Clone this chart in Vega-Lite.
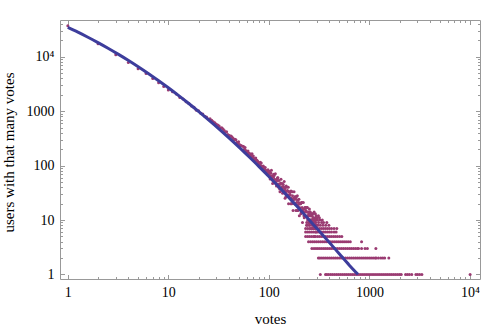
{
  "$schema": "https://vega.github.io/schema/vega-lite/v6.json",
  "width": 420,
  "height": 259,
  "autosize": {"type": "none"},
  "padding": {"left": 60, "top": 20, "right": 5, "bottom": 48},
  "background": "white",
  "config": {
    "view": {"stroke": "#999999", "strokeWidth": 1},
    "axis": {
      "labelFont": "Liberation Serif",
      "titleFont": "Liberation Serif",
      "labelColor": "black",
      "titleColor": "black",
      "labelFontSize": 14,
      "titleFontSize": 15,
      "titleFontWeight": "normal",
      "grid": false,
      "domain": false,
      "tickColor": "#999999",
      "tickWidth": 1,
      "labelFlush": false,
      "labelOverlap": false
    }
  },
  "datasets": {
    "pts": [
      {"v":1,"n":37300},{"v":2,"n":17400},{"v":3,"n":10900},{"v":4,"n":7900},{"v":5,"n":6050},{"v":6,"n":4950},{"v":7,"n":3980},{"v":8,"n":3330},{"v":9,"n":2850},{"v":10,"n":2460},
      {"v":11,"n":2290},{"v":12,"n":2068},{"v":13,"n":1790},{"v":14,"n":1676},{"v":15,"n":1486},{"v":16,"n":1393},{"v":17,"n":1248},{"v":18,"n":1180},{"v":19,"n":1045},{"v":20,"n":1016},
      {"v":21,"n":915},{"v":22,"n":886},{"v":23,"n":811},{"v":24,"n":781},{"v":25,"n":720},{"v":26,"n":730},{"v":27,"n":680},{"v":28,"n":640},{"v":29,"n":615},{"v":30,"n":575},
      {"v":31,"n":560},{"v":32,"n":535},{"v":33,"n":490},{"v":34,"n":495},{"v":35,"n":470},{"v":36,"n":440},{"v":37,"n":410},{"v":38,"n":420},{"v":39,"n":372},{"v":40,"n":362},
      {"v":41,"n":350},{"v":42,"n":350},{"v":43,"n":335},{"v":44,"n":320},{"v":45,"n":300},{"v":46,"n":305},{"v":47,"n":300},{"v":48,"n":270},{"v":49,"n":255},{"v":50,"n":275},
      {"v":51,"n":245},{"v":52,"n":232},{"v":53,"n":235},{"v":55,"n":228},{"v":56,"n":225},{"v":57,"n":200},{"v":58,"n":215},{"v":59,"n":190},{"v":60,"n":182},{"v":61,"n":172},
      {"v":62,"n":185},{"v":63,"n":170},{"v":64,"n":162},{"v":65,"n":165},{"v":66,"n":152},{"v":67,"n":145},{"v":68,"n":165},{"v":69,"n":142},{"v":70,"n":150},{"v":71,"n":135},
      {"v":72,"n":132},{"v":73,"n":125},{"v":74,"n":138},{"v":75,"n":124},{"v":76,"n":125},{"v":77,"n":122},{"v":78,"n":115},{"v":79,"n":108},{"v":80,"n":108},{"v":81,"n":108},
      {"v":82,"n":115},{"v":83,"n":100},{"v":84,"n":112},{"v":85,"n":97},{"v":86,"n":96},{"v":87,"n":90},{"v":88,"n":98},{"v":89,"n":90},{"v":90,"n":92},{"v":91,"n":84},
      {"v":92,"n":92},{"v":93,"n":82},{"v":94,"n":80},{"v":95,"n":77},{"v":96,"n":78},{"v":97,"n":76},{"v":98,"n":84},{"v":99,"n":72},{"v":100,"n":76},
      {"v":101,"n":70},{"v":103,"n":57},{"v":105,"n":72},{"v":107,"n":58},{"v":109,"n":47},{"v":111,"n":61},{"v":113,"n":66},{"v":115,"n":48},{"v":117,"n":51},{"v":119,"n":42},
      {"v":121,"n":53},{"v":123,"n":60},{"v":125,"n":40},{"v":127,"n":44},{"v":129,"n":33},{"v":131,"n":48},{"v":133,"n":38},{"v":135,"n":41},{"v":137,"n":31},{"v":139,"n":45},
      {"v":141,"n":33},{"v":143,"n":38},{"v":145,"n":25},{"v":147,"n":33},{"v":149,"n":42},{"v":151,"n":27},{"v":153,"n":35},{"v":155,"n":28},{"v":157,"n":20},{"v":159,"n":33},
      {"v":102,"n":79},{"v":104,"n":64},{"v":106,"n":82},{"v":108,"n":65},{"v":110,"n":53},{"v":112,"n":69},{"v":114,"n":56},{"v":116,"n":71},{"v":118,"n":48},{"v":120,"n":56},
      {"v":122,"n":60},{"v":124,"n":46},{"v":126,"n":53},{"v":128,"n":37},{"v":130,"n":46},{"v":132,"n":56},{"v":134,"n":39},{"v":136,"n":47},{"v":138,"n":34},{"v":140,"n":41},
      {"v":142,"n":51},{"v":144,"n":36},{"v":146,"n":40},{"v":148,"n":27},{"v":150,"n":40},{"v":152,"n":34},{"v":154,"n":29},{"v":156,"n":40},{"v":158,"n":33},{"v":160,"n":28},
      {"v":162,"n":32},{"v":165,"n":20},{"v":168,"n":25},{"v":171,"n":33},{"v":174,"n":15},{"v":177,"n":25},{"v":180,"n":20},{"v":183,"n":27},{"v":186,"n":15},{"v":189,"n":21},
      {"v":192,"n":28},{"v":195,"n":15},{"v":198,"n":21},{"v":201,"n":12},{"v":204,"n":16},{"v":207,"n":20},{"v":210,"n":14},{"v":213,"n":21},{"v":216,"n":9},{"v":219,"n":16},
      {"v":222,"n":14},{"v":225,"n":11},{"v":228,"n":17},{"v":231,"n":12},{"v":234,"n":15},{"v":237,"n":8},{"v":240,"n":17},{"v":243,"n":10},{"v":246,"n":12},{"v":249,"n":13},
      {"v":252,"n":8},{"v":255,"n":14},{"v":258,"n":10},{"v":261,"n":7},{"v":264,"n":12},{"v":267,"n":10},{"v":270,"n":8},{"v":273,"n":13},{"v":276,"n":7},{"v":279,"n":10},
      {"v":282,"n":8},{"v":285,"n":5},{"v":288,"n":10},{"v":291,"n":7},{"v":294,"n":6},{"v":297,"n":10},{"v":300,"n":8},
      {"v":163,"n":29},{"v":166,"n":34},{"v":169,"n":20},{"v":172,"n":28},{"v":175,"n":23},{"v":178,"n":33},{"v":181,"n":20},{"v":184,"n":24},{"v":187,"n":26},{"v":190,"n":15},
      {"v":193,"n":23},{"v":196,"n":19},{"v":199,"n":24},{"v":202,"n":17},{"v":205,"n":20},{"v":208,"n":13},{"v":211,"n":21},{"v":214,"n":17},{"v":217,"n":15},{"v":220,"n":21},
      {"v":223,"n":12},{"v":226,"n":16},{"v":229,"n":12},{"v":232,"n":17},{"v":235,"n":14},{"v":238,"n":9},{"v":241,"n":17},{"v":244,"n":12},{"v":247,"n":14},{"v":250,"n":9},
      {"v":253,"n":16},{"v":256,"n":12},{"v":259,"n":9},{"v":262,"n":12},{"v":265,"n":10},{"v":268,"n":13},{"v":271,"n":7},{"v":274,"n":10},{"v":277,"n":9},{"v":280,"n":11},
      {"v":283,"n":7},{"v":286,"n":10},{"v":289,"n":9},{"v":292,"n":7},{"v":295,"n":11},{"v":298,"n":8},
      {"v":258,"n":14},{"v":282,"n":14},{"v":265,"n":13},{"v":290,"n":13},{"v":270,"n":12},{"v":295,"n":12},{"v":311,"n":12},{"v":275,"n":11},{"v":300,"n":11},{"v":318,"n":11},
      {"v":262,"n":10},{"v":285,"n":10},{"v":305,"n":10},{"v":322,"n":10},{"v":340,"n":10},
      {"v":250,"n":9},{"v":270,"n":9},{"v":292,"n":9},{"v":312,"n":9},{"v":335,"n":9},{"v":350,"n":9},{"v":377,"n":9},
      {"v":240,"n":8},{"v":256,"n":8},{"v":272,"n":8},{"v":290,"n":8},{"v":308,"n":8},{"v":325,"n":8},{"v":345,"n":8},{"v":368,"n":8},{"v":395,"n":8},
      {"v":232,"n":7},{"v":243,"n":7},{"v":254,"n":7},{"v":266,"n":7},{"v":278,"n":7},{"v":291,"n":7},{"v":305,"n":7},{"v":319,"n":7},{"v":334,"n":7},{"v":349,"n":7},{"v":365,"n":7},{"v":382,"n":7},{"v":400,"n":7},{"v":420,"n":7},{"v":445,"n":7},{"v":474,"n":7},
      {"v":232,"n":6},{"v":243,"n":6},{"v":254,"n":6},{"v":266,"n":6},{"v":278,"n":6},{"v":291,"n":6},{"v":305,"n":6},{"v":319,"n":6},{"v":334,"n":6},{"v":349,"n":6},{"v":365,"n":6},{"v":382,"n":6},{"v":400,"n":6},{"v":420,"n":6},{"v":445,"n":6},{"v":467,"n":6},
      {"v":232,"n":5},{"v":243,"n":5},{"v":254,"n":5},{"v":266,"n":5},{"v":278,"n":5},{"v":291,"n":5},{"v":305,"n":5},{"v":319,"n":5},{"v":334,"n":5},{"v":349,"n":5},{"v":365,"n":5},{"v":382,"n":5},{"v":400,"n":5},{"v":418,"n":5},{"v":438,"n":5},{"v":458,"n":5},{"v":480,"n":5},{"v":505,"n":5},{"v":532,"n":5},
      {"v":248,"n":4},{"v":260,"n":4},{"v":272,"n":4},{"v":284,"n":4},{"v":297,"n":4},{"v":311,"n":4},{"v":326,"n":4},{"v":341,"n":4},{"v":356,"n":4},{"v":373,"n":4},{"v":390,"n":4},{"v":408,"n":4},{"v":427,"n":4},{"v":447,"n":4},{"v":468,"n":4},{"v":489,"n":4},{"v":512,"n":4},{"v":536,"n":4},{"v":561,"n":4},{"v":587,"n":4},{"v":615,"n":4},{"v":646,"n":4},{"v":836,"n":4},
      {"v":268,"n":3},{"v":281,"n":3},{"v":294,"n":3},{"v":307,"n":3},{"v":321,"n":3},{"v":336,"n":3},{"v":352,"n":3},{"v":368,"n":3},{"v":385,"n":3},{"v":403,"n":3},{"v":421,"n":3},{"v":441,"n":3},{"v":461,"n":3},{"v":482,"n":3},{"v":505,"n":3},{"v":528,"n":3},{"v":552,"n":3},{"v":578,"n":3},{"v":605,"n":3},{"v":633,"n":3},{"v":662,"n":3},{"v":693,"n":3},{"v":725,"n":3},{"v":758,"n":3},{"v":780,"n":3},{"v":836,"n":3},{"v":904,"n":3},{"v":955,"n":3},{"v":1160,"n":3},
      {"v":311,"n":2},{"v":322,"n":2},{"v":337,"n":2},{"v":352,"n":2},{"v":368,"n":2},{"v":385,"n":2},{"v":403,"n":2},{"v":421,"n":2},{"v":441,"n":2},{"v":461,"n":2},{"v":482,"n":2},{"v":505,"n":2},{"v":528,"n":2},{"v":552,"n":2},{"v":578,"n":2},{"v":605,"n":2},{"v":633,"n":2},{"v":662,"n":2},{"v":693,"n":2},{"v":725,"n":2},{"v":758,"n":2},{"v":793,"n":2},{"v":830,"n":2},{"v":868,"n":2},{"v":908,"n":2},{"v":950,"n":2},{"v":995,"n":2},{"v":1040,"n":2},{"v":1090,"n":2},{"v":1140,"n":2},{"v":1170,"n":2},{"v":1230,"n":2},{"v":1300,"n":2},{"v":1360,"n":2},{"v":1420,"n":2},{"v":1560,"n":2},
      {"v":325,"n":1},{"v":366,"n":1},{"v":377,"n":1},{"v":392,"n":1},{"v":410,"n":1},{"v":428,"n":1},{"v":448,"n":1},{"v":469,"n":1},{"v":490,"n":1},{"v":513,"n":1},{"v":537,"n":1},{"v":562,"n":1},{"v":588,"n":1},{"v":615,"n":1},{"v":644,"n":1},{"v":674,"n":1},{"v":705,"n":1},{"v":738,"n":1},{"v":772,"n":1},{"v":808,"n":1},{"v":846,"n":1},{"v":885,"n":1},{"v":926,"n":1},{"v":969,"n":1},{"v":1014,"n":1},{"v":1061,"n":1},{"v":1110,"n":1},{"v":1162,"n":1},{"v":1216,"n":1},{"v":1272,"n":1},{"v":1331,"n":1},{"v":1393,"n":1},{"v":1458,"n":1},{"v":1525,"n":1},{"v":1596,"n":1},{"v":1670,"n":1},{"v":1748,"n":1},{"v":1829,"n":1},{"v":1914,"n":1},{"v":2003,"n":1},{"v":2075,"n":1},{"v":2290,"n":1},{"v":2390,"n":1},{"v":2500,"n":1},{"v":2640,"n":1},{"v":2900,"n":1},{"v":3020,"n":1},{"v":3160,"n":1},{"v":3330,"n":1},{"v":10050,"n":1}
    ],
    "fit": [
      {"v":1,"n":34674},{"v":1.259,"n":28340},{"v":1.585,"n":22890},{"v":1.995,"n":18265},{"v":2.512,"n":14400},{"v":3.162,"n":11220},{"v":3.981,"n":8640},{"v":5.012,"n":6570},{"v":6.31,"n":4940},{"v":7.943,"n":3667},
      {"v":10,"n":2692},{"v":12.59,"n":1952},{"v":15.85,"n":1398},{"v":19.95,"n":990},{"v":25.12,"n":692},{"v":31.62,"n":479},{"v":39.81,"n":327},{"v":50.12,"n":221},{"v":63.1,"n":147},{"v":79.43,"n":97},
      {"v":100,"n":63.1},{"v":125.9,"n":40.6},{"v":158.5,"n":25.8},{"v":199.5,"n":16.2},{"v":251.2,"n":10.1},{"v":316.2,"n":6.3},{"v":398.1,"n":3.9},{"v":501.2,"n":2.4},{"v":631,"n":1.48},{"v":770,"n":1.0}
    ]
  },
  "layer": [
    {
      "data": {"name": "pts"},
      "mark": {"type": "circle", "size": 9, "color": "#9a3b72", "opacity": 1},
      "encoding": {
        "x": {"field": "v", "type": "quantitative", "scale": {"type": "log", "domain": [0.836, 12600], "nice": false},
          "axis": {"orient": "bottom", "values": [1, 10, 100, 1000, 10000], "ticks": false, "labelExpr": "datum.value >= 10000 ? '10⁴' : '' + datum.value", "labelPadding": 17, "labelBaseline": "alphabetic", "title": "votes", "titleY": 44, "titleBaseline": "alphabetic"}},
        "y": {"field": "n", "type": "quantitative", "scale": {"type": "log", "domain": [0.823, 47500], "nice": false},
          "axis": {"orient": "left", "values": [1, 10, 100, 1000, 10000], "ticks": false, "labelExpr": "datum.value >= 10000 ? '10⁴' : '' + datum.value", "labelPadding": 6, "title": "users with that many votes", "titleX": -47, "titleY": 132, "titleAngle": -90, "titleBaseline": "alphabetic", "titleAlign": "center"}}
      }
    },
    {
      "data": {"name": "fit"},
      "mark": {"type": "line", "color": "#3d3d9c", "strokeWidth": 3, "interpolate": "monotone"},
      "encoding": {
        "x": {"field": "v", "type": "quantitative", "scale": {"type": "log", "domain": [0.836, 12600], "nice": false},
          "axis": {"orient": "bottom", "values": [1, 10, 100, 1000, 10000], "labels": false, "tickSize": -4.5, "title": null}},
        "y": {"field": "n", "type": "quantitative", "scale": {"type": "log", "domain": [0.823, 47500], "nice": false},
          "axis": {"orient": "left", "values": [1, 10, 100, 1000, 10000], "labels": false, "tickSize": -4.5, "title": null}}
      }
    },
    {
      "data": {"name": "fit"},
      "mark": {"type": "point", "opacity": 0},
      "encoding": {
        "x": {"field": "v", "type": "quantitative", "scale": {"type": "log", "domain": [0.836, 12600], "nice": false},
          "axis": {"orient": "bottom", "values": [2,3,4,5,6,7,8,9,20,30,40,50,60,70,80,90,200,300,400,500,600,700,800,900,2000,3000,4000,5000,6000,7000,8000,9000], "labels": false, "tickSize": -2.5, "title": null}},
        "y": {"field": "n", "type": "quantitative", "scale": {"type": "log", "domain": [0.823, 47500], "nice": false},
          "axis": {"orient": "left", "values": [2,3,4,5,6,7,8,9,20,30,40,50,60,70,80,90,200,300,400,500,600,700,800,900,2000,3000,4000,5000,6000,7000,8000,9000,20000,30000,40000], "labels": false, "tickSize": -2.5, "title": null}}
      }
    },
    {
      "data": {"name": "fit"},
      "mark": {"type": "point", "opacity": 0},
      "encoding": {
        "x": {"field": "v", "type": "quantitative", "scale": {"type": "log", "domain": [0.836, 12600], "nice": false},
          "axis": {"orient": "top", "values": [1, 10, 100, 1000, 10000], "labels": false, "tickSize": -4.5, "title": null}},
        "y": {"field": "n", "type": "quantitative", "scale": {"type": "log", "domain": [0.823, 47500], "nice": false},
          "axis": {"orient": "right", "values": [1, 10, 100, 1000, 10000], "labels": false, "tickSize": -4.5, "title": null}}
      }
    },
    {
      "data": {"name": "fit"},
      "mark": {"type": "point", "opacity": 0},
      "encoding": {
        "x": {"field": "v", "type": "quantitative", "scale": {"type": "log", "domain": [0.836, 12600], "nice": false},
          "axis": {"orient": "top", "values": [2,3,4,5,6,7,8,9,20,30,40,50,60,70,80,90,200,300,400,500,600,700,800,900,2000,3000,4000,5000,6000,7000,8000,9000], "labels": false, "tickSize": -2.5, "title": null}},
        "y": {"field": "n", "type": "quantitative", "scale": {"type": "log", "domain": [0.823, 47500], "nice": false},
          "axis": {"orient": "right", "values": [2,3,4,5,6,7,8,9,20,30,40,50,60,70,80,90,200,300,400,500,600,700,800,900,2000,3000,4000,5000,6000,7000,8000,9000,20000,30000,40000], "labels": false, "tickSize": -2.5, "title": null}}
      }
    }
  ],
  "resolve": {"axis": {"x": "independent", "y": "independent"}}
}
